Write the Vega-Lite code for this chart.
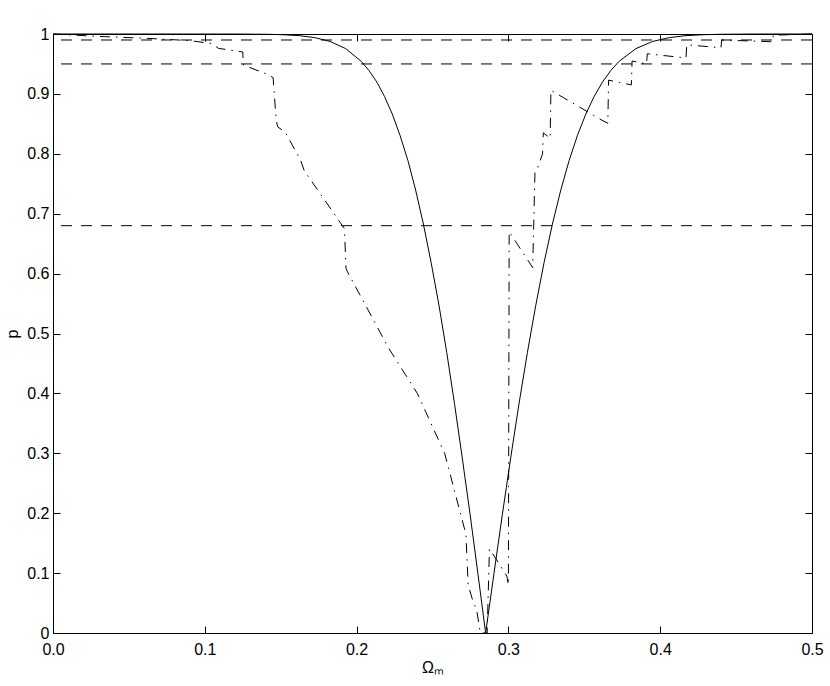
{
  "$schema": "https://vega.github.io/schema/vega-lite/v6.json",
  "width": 759,
  "height": 599,
  "autosize": {"type": "none"},
  "padding": {"left": 53, "top": 34, "right": 18, "bottom": 53},
  "background": "white",
  "datasets": {
    "rules": [{"p": 0.99}, {"p": 0.95}, {"p": 0.68}],
    "solid": [
      {"om": 0.0, "p": 1.0}, {"om": 0.121, "p": 0.99994}, {"om": 0.1415, "p": 0.9995}, {"om": 0.1518, "p": 0.9988},
      {"om": 0.162, "p": 0.9973}, {"om": 0.1723, "p": 0.994}, {"om": 0.1825, "p": 0.9876}, {"om": 0.1928, "p": 0.9756},
      {"om": 0.203, "p": 0.9545}, {"om": 0.2081, "p": 0.9392}, {"om": 0.2133, "p": 0.9199}, {"om": 0.2184, "p": 0.8958},
      {"om": 0.2235, "p": 0.8664}, {"om": 0.2286, "p": 0.8309}, {"om": 0.2338, "p": 0.7887}, {"om": 0.2389, "p": 0.7394},
      {"om": 0.244, "p": 0.6827}, {"om": 0.2491, "p": 0.6184}, {"om": 0.2543, "p": 0.5467}, {"om": 0.2594, "p": 0.468},
      {"om": 0.2645, "p": 0.3829}, {"om": 0.2696, "p": 0.2923}, {"om": 0.2748, "p": 0.1974}, {"om": 0.2799, "p": 0.0995},
      {"om": 0.285, "p": 0.0},
      {"om": 0.2905, "p": 0.0995}, {"om": 0.296, "p": 0.1974}, {"om": 0.3015, "p": 0.2923}, {"om": 0.307, "p": 0.3829},
      {"om": 0.3125, "p": 0.468}, {"om": 0.318, "p": 0.5467}, {"om": 0.3235, "p": 0.6184}, {"om": 0.329, "p": 0.6827},
      {"om": 0.3345, "p": 0.7394}, {"om": 0.34, "p": 0.7887}, {"om": 0.3455, "p": 0.8309}, {"om": 0.351, "p": 0.8664},
      {"om": 0.3565, "p": 0.8958}, {"om": 0.362, "p": 0.9199}, {"om": 0.3675, "p": 0.9392}, {"om": 0.373, "p": 0.9545},
      {"om": 0.384, "p": 0.9756}, {"om": 0.395, "p": 0.9876}, {"om": 0.406, "p": 0.994}, {"om": 0.417, "p": 0.9973},
      {"om": 0.428, "p": 0.9988}, {"om": 0.439, "p": 0.9995}, {"om": 0.461, "p": 0.99994}, {"om": 0.5, "p": 1.0}
    ],
    "dashdot": [
      {"i": 0, "om": 0.0, "p": 1.0}, {"i": 1, "om": 0.03, "p": 0.996}, {"i": 2, "om": 0.06, "p": 0.993},
      {"i": 3, "om": 0.09, "p": 0.989}, {"i": 4, "om": 0.105, "p": 0.984}, {"i": 5, "om": 0.109, "p": 0.976},
      {"i": 6, "om": 0.125, "p": 0.97}, {"i": 7, "om": 0.1255, "p": 0.948}, {"i": 8, "om": 0.142, "p": 0.932},
      {"i": 9, "om": 0.145, "p": 0.927}, {"i": 10, "om": 0.147, "p": 0.857}, {"i": 11, "om": 0.148, "p": 0.845},
      {"i": 12, "om": 0.153, "p": 0.836}, {"i": 13, "om": 0.163, "p": 0.79}, {"i": 14, "om": 0.1655, "p": 0.772},
      {"i": 15, "om": 0.189, "p": 0.686}, {"i": 16, "om": 0.192, "p": 0.675}, {"i": 17, "om": 0.193, "p": 0.609},
      {"i": 18, "om": 0.194, "p": 0.603}, {"i": 19, "om": 0.221, "p": 0.476}, {"i": 20, "om": 0.24, "p": 0.4},
      {"i": 21, "om": 0.258, "p": 0.3}, {"i": 22, "om": 0.272, "p": 0.165}, {"i": 23, "om": 0.2735, "p": 0.08},
      {"i": 24, "om": 0.277, "p": 0.05}, {"i": 25, "om": 0.279, "p": 0.04}, {"i": 26, "om": 0.2815, "p": 0.0},
      {"i": 27, "om": 0.286, "p": 0.0}, {"i": 28, "om": 0.2875, "p": 0.14}, {"i": 29, "om": 0.289, "p": 0.135},
      {"i": 30, "om": 0.299, "p": 0.095}, {"i": 31, "om": 0.3, "p": 0.08}, {"i": 32, "om": 0.3005, "p": 0.67},
      {"i": 33, "om": 0.316, "p": 0.61}, {"i": 34, "om": 0.3175, "p": 0.77}, {"i": 35, "om": 0.3195, "p": 0.778},
      {"i": 36, "om": 0.3225, "p": 0.8}, {"i": 37, "om": 0.323, "p": 0.835}, {"i": 38, "om": 0.3275, "p": 0.826},
      {"i": 39, "om": 0.328, "p": 0.906}, {"i": 40, "om": 0.3617, "p": 0.856}, {"i": 41, "om": 0.3655, "p": 0.851},
      {"i": 42, "om": 0.366, "p": 0.923}, {"i": 43, "om": 0.381, "p": 0.915}, {"i": 44, "om": 0.3815, "p": 0.955},
      {"i": 45, "om": 0.391, "p": 0.95}, {"i": 46, "om": 0.3915, "p": 0.967}, {"i": 47, "om": 0.417, "p": 0.96},
      {"i": 48, "om": 0.4175, "p": 0.982}, {"i": 49, "om": 0.44, "p": 0.977}, {"i": 50, "om": 0.4405, "p": 0.99},
      {"i": 51, "om": 0.474, "p": 0.987}, {"i": 52, "om": 0.4745, "p": 0.998}, {"i": 53, "om": 0.5, "p": 1.0}
    ]
  },
  "layer": [
    {
      "data": {"name": "rules"},
      "mark": {"type": "rule", "color": "black", "strokeWidth": 1, "strokeDash": [11, 9]},
      "encoding": {
        "y": {"field": "p", "type": "quantitative", "scale": {"domain": [0, 1]}, "axis": null}
      }
    },
    {
      "data": {"name": "solid"},
      "mark": {"type": "line", "color": "black", "strokeWidth": 1},
      "encoding": {
        "x": {"field": "om", "type": "quantitative", "scale": {"domain": [0, 0.5]},
              "axis": {"orient": "bottom", "values": [0, 0.1, 0.2, 0.3, 0.4, 0.5], "format": ".1f", "title": "Ωₘ", "labelPadding": 15, "titlePadding": 2}},
        "y": {"field": "p", "type": "quantitative", "scale": {"domain": [0, 1]},
              "axis": {"orient": "left", "values": [0, 0.1, 0.2, 0.3, 0.4, 0.5, 0.6, 0.7, 0.8, 0.9, 1], "format": "~g", "title": "p", "labelPadding": 11, "titlePadding": 6}}
      }
    },
    {
      "data": {"name": "dashdot"},
      "mark": {"type": "line", "color": "black", "strokeWidth": 1, "strokeDash": [10, 6, 1.5, 6]},
      "encoding": {
        "x": {"field": "om", "type": "quantitative", "scale": {"domain": [0, 0.5]},
              "axis": {"orient": "top", "values": [0, 0.1, 0.2, 0.3, 0.4, 0.5], "labels": false, "title": null}},
        "y": {"field": "p", "type": "quantitative", "scale": {"domain": [0, 1]},
              "axis": {"orient": "right", "values": [0, 0.1, 0.2, 0.3, 0.4, 0.5, 0.6, 0.7, 0.8, 0.9, 1], "labels": false, "title": null}},
        "order": {"field": "i", "type": "quantitative"}
      }
    }
  ],
  "resolve": {"axis": {"x": "independent", "y": "independent"}},
  "config": {
    "view": {"stroke": null},
    "axis": {
      "grid": false,
      "domainColor": "black",
      "domainWidth": 1,
      "tickColor": "black",
      "tickWidth": 1,
      "tickSize": -7,
      "labelColor": "black",
      "labelFont": "Liberation Sans",
      "labelFontSize": 16,
      "labelFlush": false,
      "labelOverlap": false,
      "titleFont": "Liberation Sans",
      "titleFontSize": 16,
      "titleFontWeight": "normal",
      "titleColor": "black"
    }
  }
}
